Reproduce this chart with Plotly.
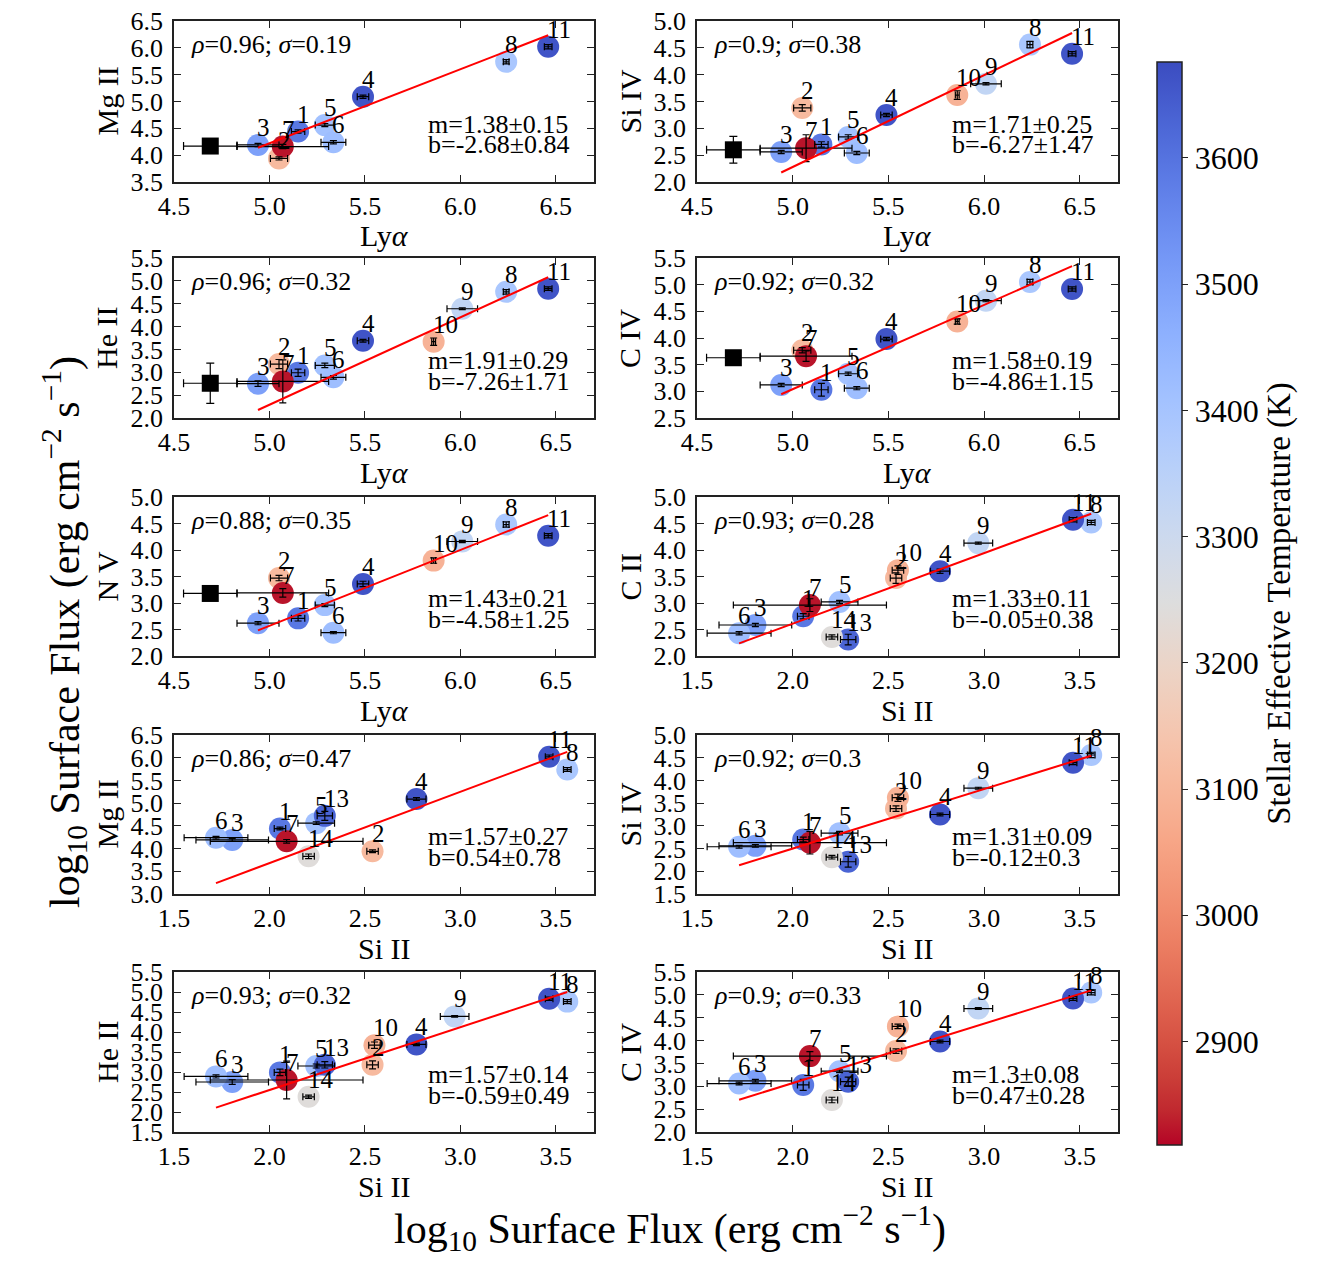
import plotly.graph_objects as go
from plotly.subplots import make_subplots

# ---------------- data ----------------
stars = ["1", "2", "3", "4", "5", "6", "7", "8", "9", "10", "11", "13", "14"]
teff = [3590, 3110, 3500, 3660, 3410, 3420, 2830, 3390, 3330, 3090, 3660, 3630, 3240]

lya = [5.15, 5.05, 4.94, 5.49, 5.29, 5.335, 5.07, 6.24, 6.01, 5.86, 6.46, None, None]
lya_err = [0.035, 0.045, 0.11, 0.03, 0.05, 0.065, 0.24, 0.015, 0.08, 0.01, 0.02, 0, 0]
si2 = [2.055, 2.54, 1.805, 2.77, 2.245, 1.72, 2.09, 3.56, 2.97, 2.55, 3.465, 2.29, 2.205]
si2_err = [0.03, 0.03, 0.19, 0.05, 0.096, 0.167, 0.40, 0.02, 0.075, 0.03, 0.02, 0.04, 0.03]

mg2 = [4.44, 3.94, 4.19, 5.09, 4.56, 4.24, 4.16, 5.74, None, None, 6.02, 4.72, 3.83]
mg2_err = [0.03, 0.03, 0.03, 0.03, 0.03, 0.03, 0.04, 0.04, 0, 0, 0.04, 0.1, 0.05]
si4 = [2.70, 3.38, 2.56, 3.25, 2.84, 2.54, 2.63, 4.56, 3.83, 3.62, 4.39, 2.21, 2.31]
si4_err = [0.05, 0.06, 0.03, 0.03, 0.04, 0.03, 0.25, 0.06, 0.02, 0.08, 0.04, 0.12, 0.04]
he2 = [2.99, 3.18, 2.75, 3.69, 3.15, 2.89, 2.80, 4.76, 4.39, 3.67, 4.83, 3.18, 2.38]
he2_err = [0.08, 0.1, 0.06, 0.03, 0.05, 0.04, 0.47, 0.05, 0.02, 0.08, 0.04, 0.08, 0.04]
c4 = [3.03, 3.77, 3.12, 3.98, 3.33, 3.06, 3.66, 5.05, 4.70, 4.31, 4.92, 3.10, 2.70]
c4_err = [0.12, 0.05, 0.03, 0.03, 0.03, 0.03, 0.1, 0.05, 0.02, 0.05, 0.04, 0.1, 0.06]
n5 = [2.71, 3.47, 2.62, 3.36, 2.96, 2.44, 3.19, 4.48, 4.16, 3.80, 4.27, None, None]
n5_err = [0.05, 0.05, 0.03, 0.05, 0.03, 0.02, 0.08, 0.05, 0.02, 0.05, 0.04, 0, 0]
c2 = [2.75, 3.47, 2.585, 3.60, 3.02, 2.43, 2.96, 4.52, 4.13, 3.62, 4.57, 2.31, 2.36]
c2_err = [0.05, 0.1, 0.03, 0.04, 0.03, 0.03, 0.12, 0.04, 0.02, 0.08, 0.04, 0.1, 0.04]

# reference star (black square) only in Ly-alpha panels
ref_lya = 4.69
ref_lya_err = 0.14
ref_mg2, ref_si4, ref_he2, ref_c4, ref_n5 = 4.17, 2.60, 2.76, 3.63, 3.18
ref_si4_err, ref_he2_err = 0.25, 0.44

# correlation / fit values per panel
rho = [0.96, 0.9, 0.96, 0.92, 0.88, 0.93, 0.86, 0.92, 0.93, 0.9]
sigma = [0.19, 0.38, 0.32, 0.32, 0.35, 0.28, 0.47, 0.3, 0.32, 0.33]
slope = [1.38, 1.71, 1.91, 1.58, 1.43, 1.33, 1.57, 1.31, 1.57, 1.3]
slope_err = [0.15, 0.25, 0.29, 0.19, 0.21, 0.11, 0.27, 0.09, 0.14, 0.08]
icpt = [-2.68, -6.27, -7.26, -4.86, -4.58, -0.05, 0.54, -0.12, -0.59, 0.47]
icpt_err = [0.84, 1.47, 1.71, 1.15, 1.25, 0.38, 0.78, 0.3, 0.49, 0.28]

X = {"lya": (lya, lya_err, "Ly<i>α</i>"), "si2": (si2, si2_err, "Si II")}
Y = {"mg2": (mg2, mg2_err, "Mg II"), "si4": (si4, si4_err, "Si IV"),
     "he2": (he2, he2_err, "He II"), "c4": (c4, c4_err, "C IV"),
     "n5": (n5, n5_err, "N V"), "c2": (c2, c2_err, "C II")}
REF = {"mg2": (ref_mg2, 0), "si4": (ref_si4, ref_si4_err), "he2": (ref_he2, ref_he2_err),
       "c4": (ref_c4, 0), "n5": (ref_n5, 0)}

# panel layout: (row, col, x quantity, y quantity, y range)
panels = [
    (1, 1, "lya", "mg2", [3.5, 6.5]),
    (1, 2, "lya", "si4", [2.0, 5.0]),
    (2, 1, "lya", "he2", [2.0, 5.5]),
    (2, 2, "lya", "c4", [2.5, 5.5]),
    (3, 1, "lya", "n5", [2.0, 5.0]),
    (3, 2, "si2", "c2", [2.0, 5.0]),
    (4, 1, "si2", "mg2", [3.0, 6.5]),
    (4, 2, "si2", "si4", [1.5, 5.0]),
    (5, 1, "si2", "he2", [1.5, 5.5]),
    (5, 2, "si2", "c4", [2.0, 5.5]),
]
xranges = {"lya": [4.5, 6.7], "si2": [1.5, 3.7]}

# matplotlib coolwarm (Moreland) table, reversed so cool temps are red
cw = [(59, 76, 192), (68, 90, 204), (77, 104, 215), (87, 117, 225), (98, 130, 234),
      (108, 142, 241), (119, 154, 247), (130, 165, 251), (141, 176, 254), (152, 185, 255),
      (163, 194, 255), (174, 201, 253), (184, 208, 249), (194, 213, 244), (204, 217, 238),
      (213, 219, 230), (221, 221, 221), (229, 216, 209), (236, 211, 197), (241, 204, 185),
      (245, 196, 173), (247, 187, 160), (247, 177, 148), (247, 166, 135), (244, 154, 123),
      (241, 141, 111), (236, 127, 99), (229, 112, 88), (222, 96, 77), (213, 80, 66),
      (203, 62, 56), (192, 40, 47), (180, 4, 38)]
n = len(cw) - 1
colorscale = [[i / n, "rgb(%d,%d,%d)" % cw[n - i]] for i in range(n + 1)]

FONT = "Liberation Serif"
W, H = 1344, 1269

fig = make_subplots(rows=5, cols=2)

xdom = {1: [174 / W, 594 / W], 2: [697 / W, 1118 / W]}
ytop = [21, 258, 497, 735, 972]
ybot = [182, 418, 656, 894, 1132]

annotations = []
for k, (r, c, xq, yq, yr) in enumerate(panels):
    idx = (r - 1) * 2 + c
    sfx = "" if idx == 1 else str(idx)
    xv, xe, xlab = X[xq]
    yv, ye, ylab = Y[yq]
    sel = [i for i in range(len(stars)) if xv[i] is not None and yv[i] is not None]
    px = [xv[i] for i in sel]
    py = [yv[i] for i in sel]
    pxe = [xe[i] for i in sel]
    pye = [ye[i] for i in sel]
    pt = [teff[i] for i in sel]
    pl = [stars[i] for i in sel]

    fig.add_trace(go.Scatter(x=px, y=py, mode="markers", showlegend=False,
                             marker=dict(size=22, color=pt, coloraxis="coloraxis",
                                         line=dict(width=0))), row=r, col=c)
    fig.add_trace(go.Scatter(x=px, y=py, mode="markers", showlegend=False,
                             marker=dict(size=2, color="rgba(0,0,0,0)"),
                             error_x=dict(type="data", array=pxe, color="black", thickness=1.2, width=3.5),
                             error_y=dict(type="data", array=pye, color="black", thickness=1.2, width=3.5)),
                  row=r, col=c)
    m, b = slope[k], icpt[k]
    x0, x1 = min(px), max(px)
    fig.add_trace(go.Scatter(x=[x0, x1], y=[m * x0 + b, m * x1 + b], mode="lines",
                             showlegend=False, line=dict(color="#ff0000", width=2)),
                  row=r, col=c)
    if xq == "lya" and yq in REF:
        ry, rye = REF[yq]
        fig.add_trace(go.Scatter(x=[ref_lya], y=[ry], mode="markers", showlegend=False,
                                 marker=dict(symbol="square", size=17, color="black"),
                                 error_x=dict(type="data", array=[ref_lya_err], color="black",
                                              thickness=1.2, width=4),
                                 error_y=dict(type="data", array=[rye], color="black",
                                              thickness=1.2, width=4)),
                      row=r, col=c)

    # point labels
    for xi, yi, lab in zip(px, py, pl):
        annotations.append(dict(x=xi, y=yi, xref="x" + sfx, yref="y" + sfx, text=lab,
                                showarrow=False, xanchor="left", yanchor="bottom",
                                xshift=-3, yshift=2, font=dict(family=FONT, size=25, color="black")))
    # stats texts
    annotations.append(dict(x=0.035, y=0.852, xref="x%s domain" % sfx, yref="y%s domain" % sfx,
                            text="<i>ρ</i>=%s; <i>σ</i>=%s" % (rho[k], sigma[k]),
                            showarrow=False, xanchor="left", yanchor="middle",
                            font=dict(family=FONT, size=26, color="black")))
    annotations.append(dict(x=0.6, y=0.36, xref="x%s domain" % sfx, yref="y%s domain" % sfx,
                            text="m=%s±%s" % (slope[k], slope_err[k]),
                            showarrow=False, xanchor="left", yanchor="middle",
                            font=dict(family=FONT, size=26, color="black")))
    annotations.append(dict(x=0.6, y=0.23, xref="x%s domain" % sfx, yref="y%s domain" % sfx,
                            text="b=%s±%s" % (icpt[k], icpt_err[k]),
                            showarrow=False, xanchor="left", yanchor="middle",
                            font=dict(family=FONT, size=26, color="black")))
    # axis titles
    dx = xdom[c]
    y0p = 1 - ybot[r - 1] / H
    y1p = 1 - ytop[r - 1] / H
    annotations.append(dict(x=(dx[0] + dx[1]) / 2, y=y0p, xref="paper", yref="paper",
                            text=xlab, showarrow=False, xanchor="center", yanchor="middle",
                            yshift=-54, font=dict(family=FONT, size=30, color="black")))
    annotations.append(dict(x=dx[0], y=(y0p + y1p) / 2, xref="paper", yref="paper",
                            text=ylab, showarrow=False, xanchor="center", yanchor="middle",
                            xshift=-67, textangle=-90,
                            font=dict(family=FONT, size=30, color="black")))

    axstyle = dict(showline=True, linecolor="#222222", linewidth=1.5, mirror="allticks",
                   ticks="inside", ticklen=7, tickcolor="#222222", tickwidth=1,
                   showgrid=False, zeroline=False, tickformat=".1f", dtick=0.5, tick0=0,
                   automargin=False,
                   tickfont=dict(family=FONT, size=26, color="black"))
    fig.layout["xaxis" + sfx].update(domain=dx, range=xranges[xq], **axstyle)
    fig.layout["yaxis" + sfx].update(domain=[y0p, y1p], range=yr, ticklabelstandoff=4, **axstyle)

# global titles
annotations.append(dict(x=670 / W, y=1 - 1228 / H, xref="paper", yref="paper",
                        text="log<sub>10</sub> Surface Flux (erg cm<sup>−2</sup> s<sup>−1</sup>)",
                        showarrow=False, xanchor="center", yanchor="middle",
                        font=dict(family=FONT, size=42, color="black")))
annotations.append(dict(x=64 / W, y=1 - 632 / H, xref="paper", yref="paper",
                        text="log<sub>10</sub> Surface Flux (erg cm<sup>−2</sup> s<sup>−1</sup>)",
                        showarrow=False, xanchor="center", yanchor="middle", textangle=-90,
                        font=dict(family=FONT, size=42, color="black")))

fig.update_layout(
    width=W, height=H,
    margin=dict(l=0, r=0, t=0, b=0, autoexpand=False),
    paper_bgcolor="white", plot_bgcolor="white",
    font=dict(family=FONT, color="black"),
    annotations=annotations,
    coloraxis=dict(
        colorscale=colorscale, cmin=2818, cmax=3676,
        colorbar=dict(x=1157 / W, xanchor="left", xpad=0,
                      y=1 - 62 / H, yanchor="top", ypad=0,
                      len=(1145 - 62) / H, lenmode="fraction",
                      thickness=25, thicknessmode="pixels",
                      outlinecolor="#222222", outlinewidth=1.5,
                      tickvals=[2900, 3000, 3100, 3200, 3300, 3400, 3500, 3600],
                      ticks="outside", ticklen=6, tickcolor="#222222",
                      tickfont=dict(family=FONT, size=32, color="black"),
                      title=dict(text="Stellar Effective Temperature (K)", side="right",
                                 font=dict(family=FONT, size=33, color="black"))),
    ),
)

fig.write_html("out.html")
